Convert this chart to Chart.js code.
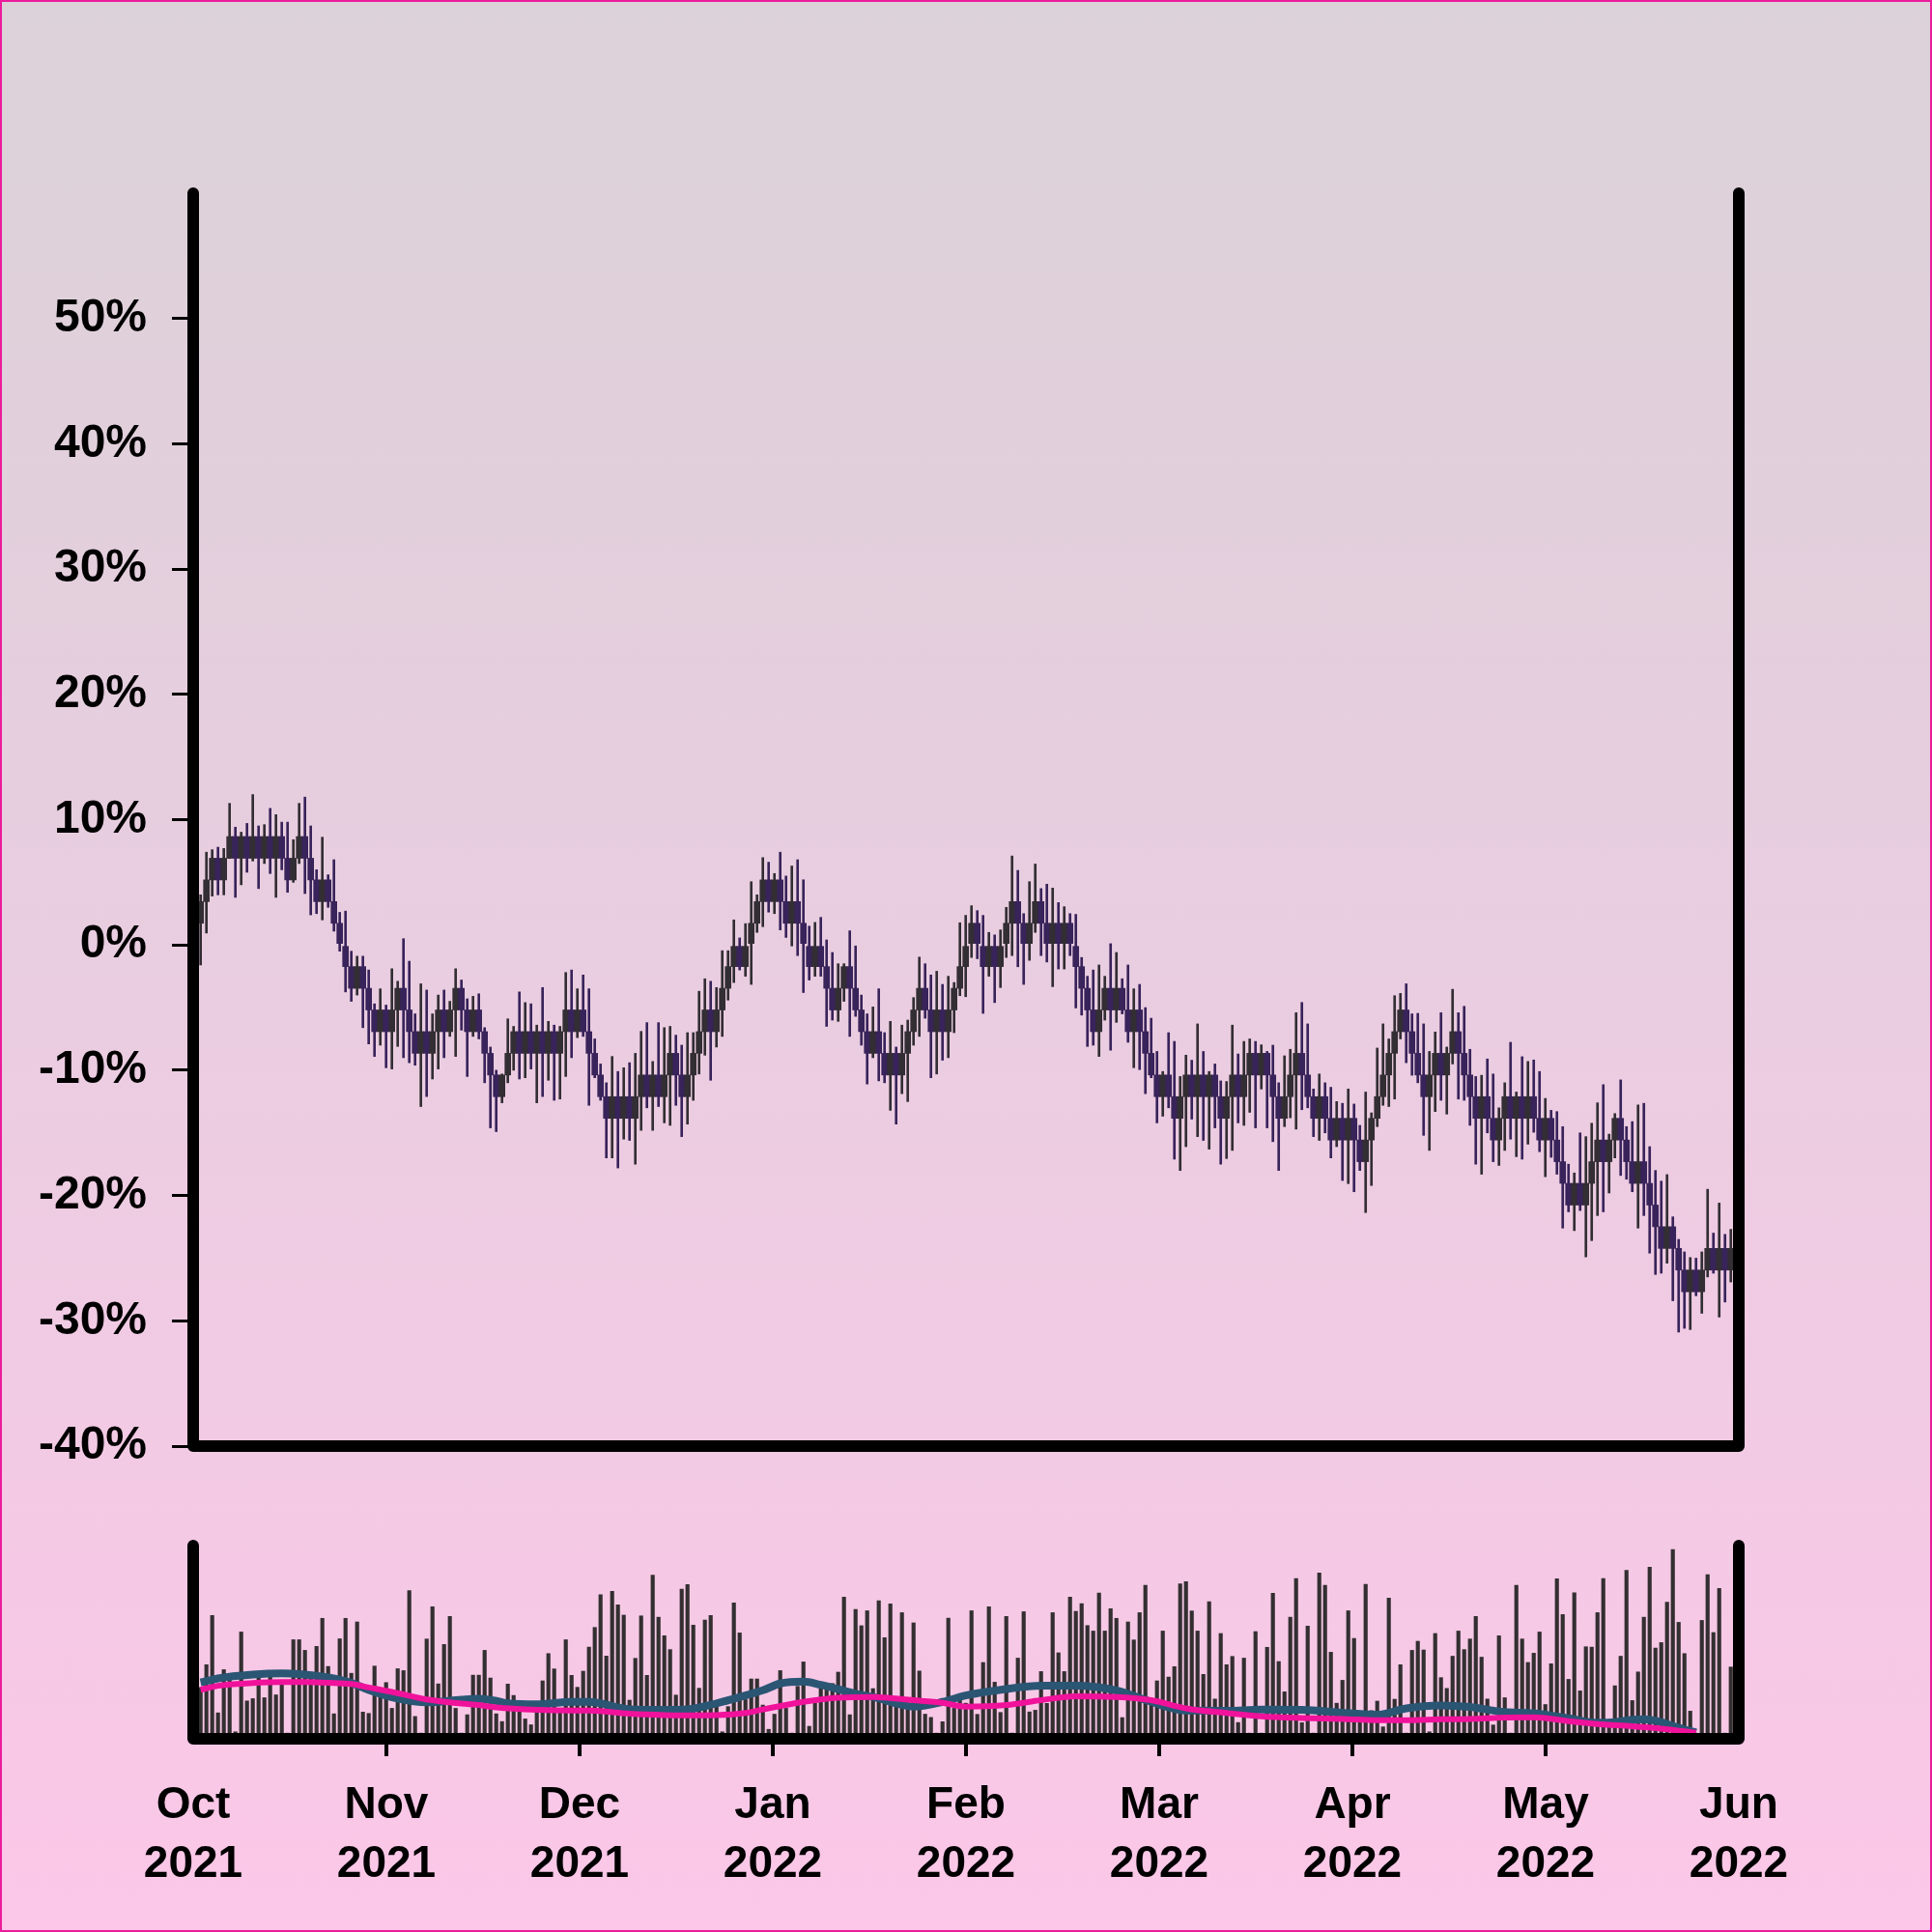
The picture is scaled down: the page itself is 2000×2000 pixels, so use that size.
<!DOCTYPE html>
<html>
<head>
<meta charset="utf-8">
<title>Price and volume</title>
<script src="https://cdn.jsdelivr.net/npm/chart.js@4.4.1/dist/chart.umd.min.js"></script>
<style>
  html, body { margin: 0; padding: 0; }
  body { width: 2000px; height: 2000px; overflow: hidden; }
  #page {
    position: relative; width: 2000px; height: 2000px;
    background: linear-gradient(#dbd2d8 0%, #e9cde0 50%, #fcc7e8 100%);
  }
  #frameBorder {
    position: absolute; left: 0; top: 0; width: 2000px; height: 2000px;
    box-sizing: border-box; border: 2px solid #ec1c9c; pointer-events: none;
  }
  #priceChart { position: absolute; left: 0; top: 0; }
  #volumeChart { position: absolute; left: 0; top: 1538px; }
</style>
</head>
<body>
<div id="page">
  <canvas id="priceChart" width="2000" height="1567"></canvas>
  <canvas id="volumeChart" width="2000" height="462"></canvas>
  <div id="frameBorder"></div>
</div>
<script>
// ---- data (percent change, one candle per slot) ----
const firstOpen = 1.73;
const closes = [
  3.46, 5.19, 6.92, 5.19, 6.92, 8.65, 6.92, 8.65, 6.92, 8.65,
  6.92, 8.65, 6.92, 8.65, 6.92, 5.19, 6.92, 8.65, 6.92, 5.19,
  3.46, 5.19, 3.46, 1.73, 0, -1.73, -3.46, -1.73, -3.46, -5.19,
  -6.92, -5.19, -6.92, -5.19, -3.46, -5.19, -6.92, -8.65, -6.92, -8.65,
  -6.92, -5.19, -6.92, -5.19, -3.46, -5.19, -6.92, -5.19, -6.92, -8.65,
  -10.38, -12.11, -10.38, -8.65, -6.92, -8.65, -6.92, -8.65, -6.92, -8.65,
  -6.92, -8.65, -6.92, -5.19, -6.92, -5.19, -6.92, -8.65, -10.38, -12.11,
  -13.84, -12.11, -13.84, -12.11, -13.84, -12.11, -10.38, -12.11, -10.38, -12.11,
  -10.38, -8.65, -10.38, -12.11, -10.38, -8.65, -6.92, -5.19, -6.92, -5.19,
  -3.46, -1.73, 0, -1.73, 0, 1.73, 3.46, 5.19, 3.46, 5.19,
  3.46, 1.73, 3.46, 1.73, 0, -1.73, 0, -1.73, -3.46, -5.19,
  -3.46, -1.73, -3.46, -5.19, -6.92, -8.65, -6.92, -8.65, -10.38, -8.65,
  -10.38, -8.65, -6.92, -5.19, -3.46, -5.19, -6.92, -5.19, -6.92, -5.19,
  -3.46, -1.73, 0, 1.73, 0, -1.73, 0, -1.73, 0, 1.73,
  3.46, 1.73, 0, 1.73, 3.46, 1.73, 0, 1.73, 0, 1.73,
  0, -1.73, -3.46, -5.19, -6.92, -5.19, -3.46, -5.19, -3.46, -5.19,
  -6.92, -5.19, -6.92, -8.65, -10.38, -12.11, -10.38, -12.11, -13.84, -12.11,
  -10.38, -12.11, -10.38, -12.11, -10.38, -12.11, -13.84, -12.11, -10.38, -12.11,
  -10.38, -8.65, -10.38, -8.65, -10.38, -12.11, -13.84, -12.11, -10.38, -8.65,
  -10.38, -12.11, -13.84, -12.11, -13.84, -15.57, -13.84, -15.57, -13.84, -15.57,
  -17.3, -15.57, -13.84, -12.11, -10.38, -8.65, -6.92, -5.19, -6.92, -8.65,
  -10.38, -12.11, -10.38, -8.65, -10.38, -8.65, -6.92, -8.65, -10.38, -12.11,
  -13.84, -12.11, -13.84, -15.57, -13.84, -12.11, -13.84, -12.11, -13.84, -12.11,
  -13.84, -15.57, -13.84, -15.57, -17.3, -19.03, -20.76, -19.03, -20.76, -19.03,
  -17.3, -15.57, -17.3, -15.57, -13.84, -15.57, -17.3, -19.03, -17.3, -19.03,
  -20.76, -22.49, -24.22, -22.49, -24.22, -25.95, -27.68, -25.95, -27.68, -25.95,
  -24.22, -25.95, -24.22, -25.95, -24.22
];
const highs = [
  4.0, 7.4, 7.6, 7.8, 7.7, 11.3, 9.4, 9.0, 9.7, 12.0,
  9.5, 9.6, 10.9, 10.4, 9.8, 9.8, 8.4, 11.3, 11.8, 9.5,
  6.0, 8.6, 5.6, 6.8, 2.6, 2.7, -0.5, -0.9, -0.9, -2.0,
  -4.7, -3.5, -4.8, -1.9, -2.9, 0.5, -1.3, -5.5, -3.1, -3.6,
  -5.5, -4.0, -3.6, -4.5, -1.9, -2.8, -4.3, -4.1, -3.9, -6.6,
  -8.15, -10.0, -10.3, -5.9, -6.5, -3.75, -4.6, -4.7, -6.4, -3.4,
  -6.1, -6.4, -6.5, -2.2, -2.0, -3.5, -2.4, -3.5, -7.5, -9.5,
  -11.0, -8.9, -10.1, -9.8, -9.4, -8.65, -6.9, -6.2, -9.3, -6.2,
  -6.6, -6.5, -7.2, -8.0, -7.0, -7.0, -3.7, -2.7, -2.9, -3.4,
  -0.46, -0.46, 2.0, 0.56, 1.7, 5.05, 4.0, 6.97, 6.6, 5.7,
  7.4, 5.5, 6.3, 6.8, 5.2, 1.5, 1.8, 2.2, 0.4, -0.6,
  -1.5, -1.5, 1.13, -0.08, -4.0, -5.5, -4.95, -3.5, -7.0, -6.1,
  -8.15, -6.4, -6.0, -4.2, -0.97, -1.5, -2.4, -2.1, -3.15, -2.5,
  -3.0, 1.77, 2.36, 3.13, 2.74, 2.36, 1.0, 0.8, 1.2, 3.0,
  7.1, 5.95, 2.5, 5.05, 6.46, 4.5, 4.85, 4.54, 3.38, 3.05,
  2.5, 2.44, -1.0, -2.5, -2.0, -1.6, -2.5, 0.1, -0.6, -2.7,
  -1.6, -3.5, -3.15, -5.0, -5.85, -8.5, -10.1, -7.0, -7.7, -10.5,
  -8.8, -9.2, -6.3, -8.5, -10.1, -9.5, -10.85, -10.9, -6.4, -8.7,
  -7.7, -7.5, -7.7, -7.97, -8.5, -8.0, -11.0, -8.85, -8.33, -5.41,
  -4.59, -6.3, -11.5, -10.3, -11.0, -11.36, -12.5, -12.64, -11.5, -12.7,
  -14.4, -11.74, -13.4, -8.23, -6.3, -7.5, -4.05, -3.87, -3.1, -5.5,
  -5.46, -6.3, -8.5, -6.95, -5.41, -8.15, -3.54, -5.41, -4.9, -8.33,
  -10.5, -10.4, -9.1, -10.3, -13.0, -11.0, -7.77, -11.74, -8.92, -9.3,
  -9.18, -10.1, -12.25, -13.2, -13.3, -14.5, -17.5, -18.2, -15.0, -15.3,
  -14.23, -12.6, -11.15, -15.1, -13.46, -10.77, -14.5, -14.1, -12.77, -12.64,
  -16.1, -18.0, -18.85, -18.33, -21.7, -23.5, -24.5, -24.95, -25.0, -24.5,
  -19.5, -23.0, -20.6, -23.1, -22.7
];
const lows = [
  -1.6, 0.95, 3.9, 4.0, 4.0, 6.9, 3.8, 4.8, 5.8, 6.7,
  4.5, 6.5, 5.7, 3.8, 6.0, 4.2, 5.0, 6.5, 4.1, 2.4,
  2.5, 2.0, 3.0, 1.1, -0.5, -3.75, -4.5, -4.0, -6.6, -7.9,
  -8.9, -8.0, -9.8, -9.9, -8.1, -9.0, -9.4, -9.6, -12.9, -12.1,
  -10.7, -9.9, -9.0, -7.3, -8.9, -6.8, -10.5, -7.3, -7.5, -11.0,
  -14.6, -14.9, -12.6, -11.0, -10.0, -10.7, -10.6, -9.9, -12.6, -12.1,
  -10.8, -12.4, -12.3, -10.5, -9.0, -7.4, -7.3, -12.8, -10.6, -12.4,
  -17.0, -17.0, -17.8, -15.5, -15.6, -17.5, -14.8, -13.0, -14.8, -12.9,
  -14.2, -14.4, -12.8, -15.3, -14.3, -12.4, -10.3, -8.8, -10.8, -8.15,
  -7.3, -4.4, -3.0, -2.0, -2.5, -3.15, 1.0, 1.46, 2.62, 2.5,
  1.2, 0.6, -0.08, -0.85, -3.8, -2.8, -2.5, -2.5, -6.5, -6.0,
  -6.1, -4.5, -7.3, -5.7, -8.0, -11.1, -9.0, -10.85, -11.0, -13.2,
  -14.3, -11.87, -12.5, -8.0, -7.3, -5.85, -10.6, -10.3, -9.2, -9.0,
  -7.0, -4.05, -4.13, -1.0, -1.1, -5.46, -2.5, -4.6, -3.4, -1.0,
  -0.85, -1.74, -3.15, -1.23, 1.0, -0.85, -1.36, -3.33, -1.92, -1.92,
  -0.85, -5.03, -5.6, -8.1, -8.0, -8.9, -6.0, -8.4, -6.18, -5.5,
  -7.77, -9.8, -9.95, -11.87, -10.6, -14.2, -13.67, -13.0, -17.1, -18.0,
  -16.1, -13.9, -15.3, -15.6, -16.3, -14.6, -17.5, -17.05, -16.4, -14.2,
  -14.4, -13.36, -14.6, -11.5, -14.6, -15.7, -18.0, -14.5, -13.8, -14.7,
  -13.15, -13.0, -15.3, -15.6, -15.0, -17.0, -16.1, -18.8, -19.05, -19.7,
  -18.0, -21.36, -19.2, -14.5, -12.8, -12.9, -12.3, -7.5, -9.4, -10.4,
  -11.0, -15.2, -16.4, -13.3, -12.4, -13.5, -9.5, -12.3, -12.4, -14.4,
  -17.5, -18.3, -15.0, -17.3, -17.6, -16.4, -15.5, -16.9, -17.1, -15.9,
  -14.95, -16.5, -18.5, -16.95, -18.3, -22.6, -21.3, -22.8, -21.2, -24.9,
  -23.6, -21.6, -21.3, -19.8, -17.0, -18.4, -18.7, -19.7, -22.6, -21.6,
  -24.6, -26.3, -26.2, -25.4, -28.4, -30.9, -30.6, -30.7, -28.0, -29.4,
  -26.5, -26.2, -29.7, -28.5, -26.9
];
const volumes = [
  24.1, 36.1, 62.1, 10.7, 33.5, 31.5, 0.7, 53.4, 17.0, 18.2,
  29.3, 18.7, 30.1, 20.2, 25.9, 0, 49.3, 49.3, 43.7, 29.3,
  45.8, 60.6, 35.2, 10.2, 49.8, 60.6, 31.6, 58.7, 11.1, 10.4,
  35.4, 20.8, 26.7, 13.1, 34.0, 33.0, 75.3, 8.8, 0, 49.7,
  66.7, 26.0, 46.8, 61.6, 13.1, 0, 9.7, 30.6, 30.6, 43.7,
  29.1, 10.2, 6.1, 25.9, 19.9, 11.4, 7.5, 4.4, 16.5, 27.6,
  42.0, 33.9, 10.6, 49.3, 30.5, 24.2, 32.7, 45.4, 55.8, 73.1,
  40.7, 74.8, 67.7, 62.3, 17.4, 39.5, 61.9, 30.5, 83.4, 61.2,
  51.4, 44.1, 20.1, 76.0, 78.4, 57.0, 23.7, 59.7, 62.1, 16.5,
  0.7, 14.0, 68.7, 52.9, 17.7, 28.6, 28.6, 14.8, 2.0, 10.0,
  33.0, 13.1, 0, 24.7, 37.6, 3.6, 16.0, 23.7, 26.2, 26.2,
  32.2, 71.8, 9.7, 65.3, 56.7, 64.6, 23.5, 69.9, 50.4, 68.2,
  18.2, 63.6, 14.3, 58.2, 32.8, 10.0, 8.3, 0, 6.0, 60.7,
  13.1, 20.4, 15.8, 64.6, 9.9, 37.3, 66.7, 26.9, 10.9, 61.6,
  0, 39.6, 64.1, 11.2, 12.1, 32.5, 15.7, 63.6, 42.4, 32.5,
  71.8, 64.3, 68.4, 56.8, 53.9, 74.0, 53.9, 65.7, 60.6, 8.2,
  58.7, 49.2, 63.6, 78.1, 15.7, 27.6, 53.9, 29.6, 35.1, 78.8,
  79.9, 64.5, 53.9, 31.0, 69.4, 18.0, 52.6, 36.1, 40.5, 5.6,
  39.6, 0, 53.6, 0, 45.3, 73.8, 37.8, 21.8, 61.2, 81.6,
  5.5, 56.5, 0, 84.5, 78.1, 42.7, 15.8, 27.9, 64.6, 50.0,
  10.0, 78.6, 11.9, 16.9, 3.3, 71.3, 17.9, 36.1, 0, 43.7,
  48.5, 43.9, 0.7, 52.6, 29.3, 23.6, 40.6, 53.9, 44.1, 49.7,
  61.6, 40.1, 18.0, 4.3, 51.4, 18.7, 0, 78.1, 49.7, 37.3,
  42.2, 53.4, 15.1, 36.6, 81.5, 62.6, 28.4, 74.1, 22.3, 45.6,
  45.4, 63.6, 81.6, 5.0, 25.0, 40.6, 85.9, 17.2, 32.3, 61.2,
  87.6, 44.9, 47.8, 69.1, 96.9, 58.5, 42.0, 11.6, 0, 59.5,
  83.7, 53.1, 76.4, 0, 34.9
];

// volume averages, read at a few slots along the curves
const fastAvgX = [0, 3, 9, 14, 18, 22, 26, 29, 34, 39, 45, 48, 51, 53, 58, 64, 67, 74, 80, 84,
  89, 94, 97, 100, 104, 107, 113, 116, 123, 128, 132, 139, 145, 151, 158, 164, 170, 177, 183, 190,
  197, 203, 208, 214, 219, 225, 230, 236, 241, 244, 247, 249, 252, 254, 257, 258];
const fastAvg = [26.7, 28.9, 30.9, 31.5, 30.9, 29.4, 26.5, 22.8, 18.2, 16.2, 17.7, 18.2, 17.0, 15.7, 15.2, 16.5, 16.5, 12.6, 12.3, 12.6,
  15.7, 19.9, 22.6, 26.2, 27.2, 25.5, 20.8, 19.1, 14.0, 16.5, 19.9, 23.3, 25.0, 25.0, 22.5, 16.5, 11.9, 11.8, 12.4, 12.3,
  10.8, 9.7, 13.1, 14.6, 13.8, 11.1, 10.5, 7.8, 5.5, 5.8, 7.1, 7.3, 5.8, 3.7, 1.2, 0.3];
const slowAvgX = [0, 3, 9, 14, 18, 22, 26, 29, 34, 39, 45, 48, 51, 58, 64, 67, 74, 80, 84, 89,
  94, 97, 104, 110, 116, 123, 128, 132, 139, 145, 151, 158, 164, 170, 177, 183, 190, 197, 203, 208,
  214, 219, 225, 230, 236, 241, 247, 252, 258];
const slowAvg = [22.9, 25.0, 26.4, 26.9, 26.9, 26.6, 25.9, 24.1, 21.1, 17.8, 15.6, 14.8, 13.6, 12.3, 11.9, 11.9, 10.2, 9.5, 9.4, 9.5,
  10.6, 12.5, 16.5, 18.7, 19.1, 17.4, 16.0, 14.0, 14.8, 17.4, 19.4, 19.1, 17.4, 13.1, 10.6, 8.9, 8.0, 7.5, 6.8, 6.8,
  7.3, 7.5, 8.2, 8.4, 6.3, 4.8, 3.6, 2.4, 0.2];

const yTicks = [-40, -30, -20, -10, 0, 10, 20, 30, 40, 50];
const monthLabels = ['Oct', 'Nov', 'Dec', 'Jan', 'Feb', 'Mar', 'Apr', 'May', 'Jun'];
const yearLabels = ['2021', '2021', '2021', '2022', '2022', '2022', '2022', '2022', '2022'];

// ---- styling ----
const UP = '#322e33';
const DOWN = '#38235a';
const FONT = "'Liberation Sans', Arial, Helvetica, sans-serif";
const X_MIN = -1.28;
const X_MAX = 265.38;

const opens = [firstOpen].concat(closes.slice(0, -1));
const candleColors = closes.map((c, i) => (c > opens[i] ? UP : DOWN));
const bodyData = closes.map((c, i) => ({ x: i, y: [opens[i], c] }));
const wickData = closes.map((c, i) => ({ x: i, y: [lows[i], highs[i]] }));

// thick black frame on left, bottom and right with round ends
const framePlugin = {
  id: 'frame',
  afterDatasetsDraw(chart) {
    const { ctx, chartArea: a } = chart;
    ctx.save();
    ctx.strokeStyle = '#000';
    ctx.lineWidth = 12;
    ctx.lineCap = 'round';
    ctx.lineJoin = 'round';
    ctx.beginPath();
    ctx.moveTo(a.left, a.top);
    ctx.lineTo(a.left, a.bottom);
    ctx.lineTo(a.right, a.bottom);
    ctx.lineTo(a.right, a.top);
    ctx.stroke();
    ctx.restore();
  }
};

new Chart(document.getElementById('priceChart'), {
  type: 'bar',
  data: {
    datasets: [
      { label: 'body', data: bodyData, backgroundColor: candleColors, barThickness: 6, grouped: false, order: 1 },
      { label: 'wick', data: wickData, backgroundColor: candleColors, barThickness: 2, grouped: false, order: 2 }
    ]
  },
  options: {
    responsive: false,
    animation: false,
    devicePixelRatio: 1,
    layout: { padding: { top: 200, right: 200, bottom: 70, left: 0 } },
    plugins: { legend: { display: false }, tooltip: { enabled: false } },
    scales: {
      x: { type: 'linear', min: X_MIN, max: X_MAX, offset: false, display: false },
      y: {
        min: -40,
        max: 60,
        afterBuildTicks: s => { s.ticks = yTicks.map(v => ({ value: v })); },
        afterFit: s => { s.width = 200; },
        border: { display: false },
        grid: { drawOnChartArea: false, color: '#000', lineWidth: 3, tickLength: 22 },
        ticks: {
          color: '#000',
          padding: 26,
          font: { family: FONT, weight: 'bold', size: 48 },
          callback: v => v + '%'
        }
      }
    }
  },
  plugins: [framePlugin]
});

new Chart(document.getElementById('volumeChart'), {
  type: 'bar',
  data: {
    datasets: [
      {
        type: 'line', label: 'slow', order: 1,
        data: slowAvgX.map((x, k) => ({ x: x, y: slowAvg[k] })),
        borderColor: '#f0129b', borderWidth: 6, pointRadius: 0,
        cubicInterpolationMode: 'monotone', tension: 0.4
      },
      {
        type: 'line', label: 'fast', order: 2,
        data: fastAvgX.map((x, k) => ({ x: x, y: fastAvg[k] })),
        borderColor: '#2a5674', borderWidth: 8, pointRadius: 0,
        cubicInterpolationMode: 'monotone', tension: 0.4
      },
      {
        label: 'volume', order: 3,
        data: volumes.map((v, i) => ({ x: i, y: v })),
        backgroundColor: '#332f31', barThickness: 3.5, grouped: false
      }
    ]
  },
  options: {
    responsive: false,
    animation: false,
    devicePixelRatio: 1,
    layout: { padding: { top: 62, right: 200, bottom: 0, left: 200 } },
    plugins: { legend: { display: false }, tooltip: { enabled: false } },
    scales: {
      x: {
        type: 'linear', min: X_MIN, max: X_MAX, offset: false,
        afterBuildTicks: s => {
          s.ticks = monthLabels.map((m, k) => ({ value: X_MIN + k * (X_MAX - X_MIN) / (monthLabels.length - 1) }));
        },
        afterFit: s => { s.height = 200; },
        border: { display: false },
        grid: {
          offset: false,
          drawOnChartArea: false,
          lineWidth: 4,
          tickLength: 18,
          color: c => (c.index === 0 || c.index === monthLabels.length - 1) ? 'rgba(0,0,0,0)' : '#000'
        },
        ticks: {
          autoSkip: false,
          maxRotation: 0,
          color: '#000',
          padding: 21,
          font: { family: FONT, weight: 'bold', size: 46, lineHeight: 1.33 },
          callback: (v, k) => [monthLabels[k], yearLabels[k]]
        }
      },
      y: { display: false, min: -3, max: 99 }
    }
  },
  plugins: [framePlugin]
});
</script>
</body>
</html>
